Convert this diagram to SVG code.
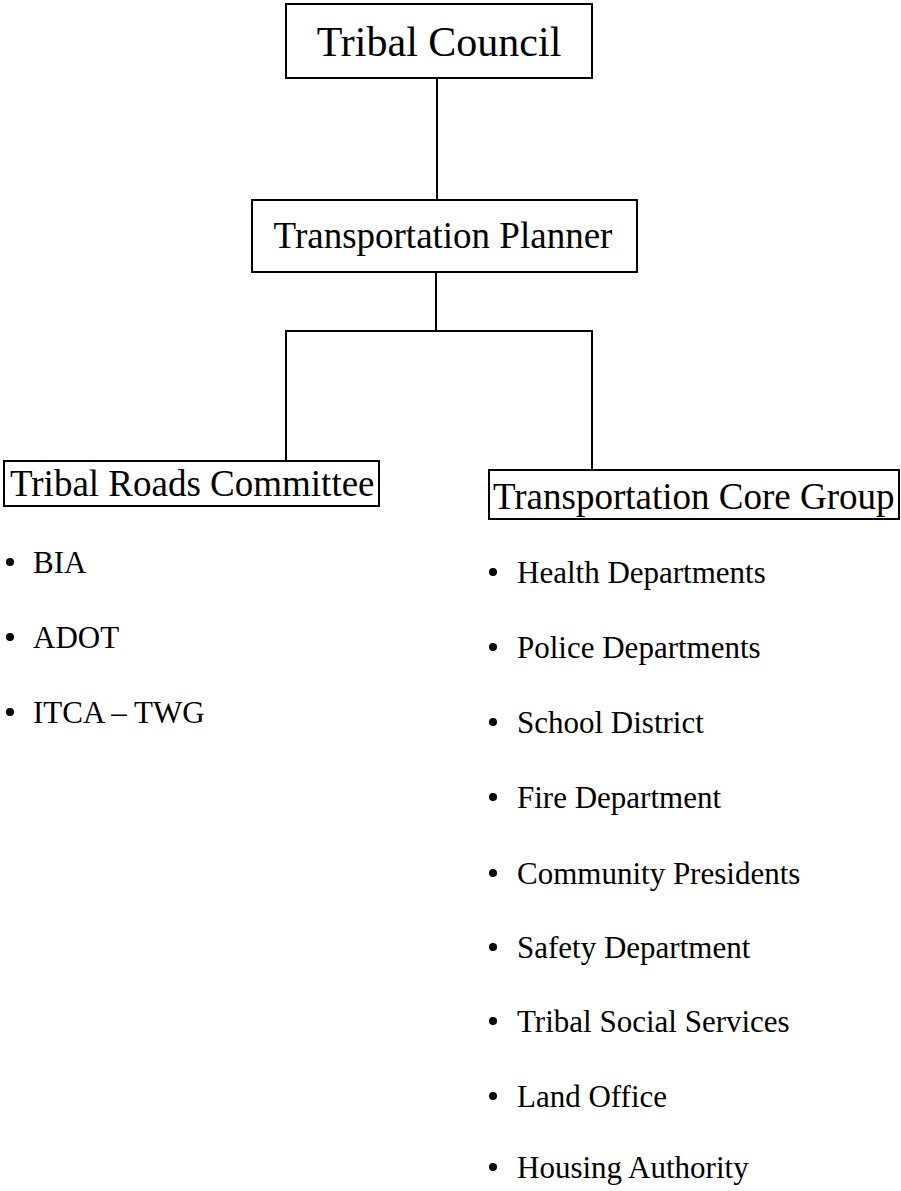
<svg xmlns="http://www.w3.org/2000/svg" width="901" height="1191" viewBox="0 0 901 1191">
<style>
.box{fill:#fff;stroke:#000;stroke-width:2}
.t{font-family:"Liberation Serif","Times New Roman",serif;fill:#000}
.h1{font-size:42px}
.h2{font-size:37px}
.li{font-size:31px}
.conn{stroke:#000;stroke-width:2;fill:none}
.b{fill:#000}
</style>
<rect width="901" height="1191" fill="#fff"/>
<g id="connectors">
<line class="conn" x1="437" y1="78" x2="437" y2="200"/>
<line class="conn" x1="436" y1="272" x2="436" y2="331"/>
<polyline class="conn" points="286,461 286,331 592,331 592,470"/>
</g>
<g id="tribal-council">
<rect class="box" x="286" y="4" width="306" height="74"/>
<text class="t h1" x="439" y="56" text-anchor="middle">Tribal Council</text>
</g>
<g id="transportation-planner">
<rect class="box" x="252" y="200" width="385" height="72"/>
<text class="t h2" x="443" y="248" text-anchor="middle">Transportation Planner</text>
</g>
<g id="tribal-roads-committee">
<rect class="box" x="4" y="461" width="375" height="45"/>
<text class="t h2" x="10" y="496">Tribal Roads Committee</text>
</g>
<g id="transportation-core-group">
<rect class="box" x="489" y="470" width="410" height="49"/>
<text class="t h2" x="493" y="509">Transportation Core Group</text>
</g>
<g id="roads-list">
<circle class="b" cx="10" cy="562" r="4"/><text class="t li" x="33" y="573">BIA</text>
<circle class="b" cx="10" cy="637" r="4"/><text class="t li" x="33" y="648">ADOT</text>
<circle class="b" cx="10" cy="712" r="4"/><text class="t li" x="33" y="723">ITCA – TWG</text>
</g>
<g id="core-list">
<circle class="b" cx="493" cy="572" r="4"/><text class="t li" x="517" y="583">Health Departments</text>
<circle class="b" cx="493" cy="647" r="4"/><text class="t li" x="517" y="658">Police Departments</text>
<circle class="b" cx="493" cy="722" r="4"/><text class="t li" x="517" y="733">School District</text>
<circle class="b" cx="493" cy="797" r="4"/><text class="t li" x="517" y="808">Fire Department</text>
<circle class="b" cx="493" cy="873" r="4"/><text class="t li" x="517" y="884">Community Presidents</text>
<circle class="b" cx="493" cy="947" r="4"/><text class="t li" x="517" y="958">Safety Department</text>
<circle class="b" cx="493" cy="1021" r="4"/><text class="t li" x="517" y="1032">Tribal Social Services</text>
<circle class="b" cx="493" cy="1096" r="4"/><text class="t li" x="517" y="1107">Land Office</text>
<circle class="b" cx="493" cy="1167" r="4"/><text class="t li" x="517" y="1178">Housing Authority</text>
</g>
</svg>
